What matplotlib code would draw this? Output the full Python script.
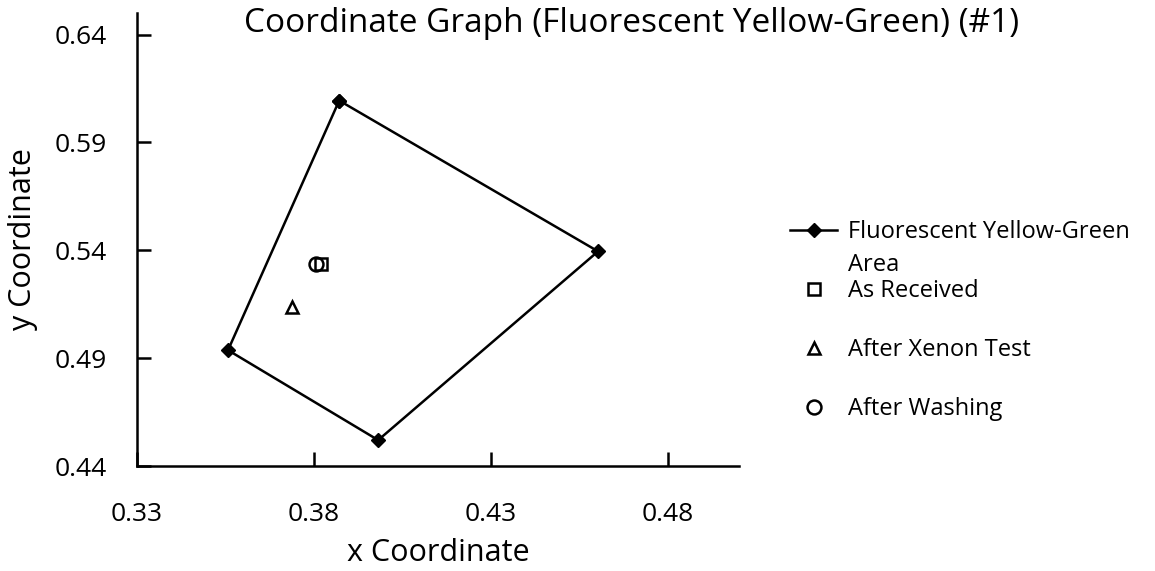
import matplotlib
matplotlib.use("Agg")
import matplotlib.pyplot as plt

plt.rcParams['font.family'] = ['Open Sans', 'DejaVu Sans']

area_x = [0.3871, 0.4602, 0.3981, 0.3557, 0.3871]
area_y = [0.6094, 0.5395, 0.4520, 0.4937, 0.6094]
recv_x = [0.3820]
recv_y = [0.5335]
xenon_x = [0.3738]
xenon_y = [0.5136]
wash_x = [0.3806]
wash_y = [0.5335]
xticks = [0.33, 0.38, 0.43, 0.48]
yticks = [0.44, 0.49, 0.54, 0.59, 0.64]

W, H = 1155, 571
fig = plt.figure(figsize=(W/100, H/100), dpi=100)
ax = fig.add_axes([137/W, 1-466/H, (739-137)/W, (466-13)/H])

ax.plot(area_x, area_y, color='black', lw=1.8, marker='D', ms=7, mfc='black',
        label='Fluorescent Yellow-Green')
ax.plot(recv_x, recv_y, ls='none', marker='s', ms=9, mfc='none', mec='black', mew=1.8,
        label='As Received')
ax.plot(xenon_x, xenon_y, ls='none', marker='^', ms=9, mfc='none', mec='black', mew=1.8,
        label='After Xenon Test')
ax.plot(wash_x, wash_y, ls='none', marker='o', ms=10, mfc='none', mec='black', mew=1.8,
        label='After Washing')

ax.set_xlim(0.33, 0.50)
ax.set_ylim(0.44, 0.65)
ax.set_xticks(xticks)
ax.set_yticks(yticks)
ax.set_xticklabels([f"{v:.2f}" for v in xticks])
ax.set_yticklabels([f"{v:.2f}" for v in yticks])
ax.tick_params(direction='in', length=10, width=1.8, labelsize=19)
ax.tick_params(axis='y', pad=22)
ax.tick_params(axis='x', pad=26)
for s in ['top', 'right']:
    ax.spines[s].set_visible(False)
for s in ['left', 'bottom']:
    ax.spines[s].set_linewidth(1.8)

ax.set_xlabel('x Coordinate', fontsize=22, labelpad=8)
ax.set_ylabel('y Coordinate', fontsize=22, labelpad=12)
fig.text(632/W, 1-24/H, 'Coordinate Graph (Fluorescent Yellow-Green) (#1)',
         ha='center', va='center', fontsize=24)

leg = fig.legend(loc='upper left', bbox_to_anchor=(790/W, 1-220/H), frameon=False,
                 fontsize=17, labelspacing=1.48, handlelength=2.0, handletextpad=0.45,
                 borderaxespad=0, borderpad=0)

fig.canvas.draw()
t0 = leg.get_texts()[0]
bb = t0.get_window_extent()
fig.text(bb.x0 / W, (bb.y0 - 33) / H, 'Area', ha='left', va='bottom', fontsize=17)

fig.savefig('out.png', dpi=100)
